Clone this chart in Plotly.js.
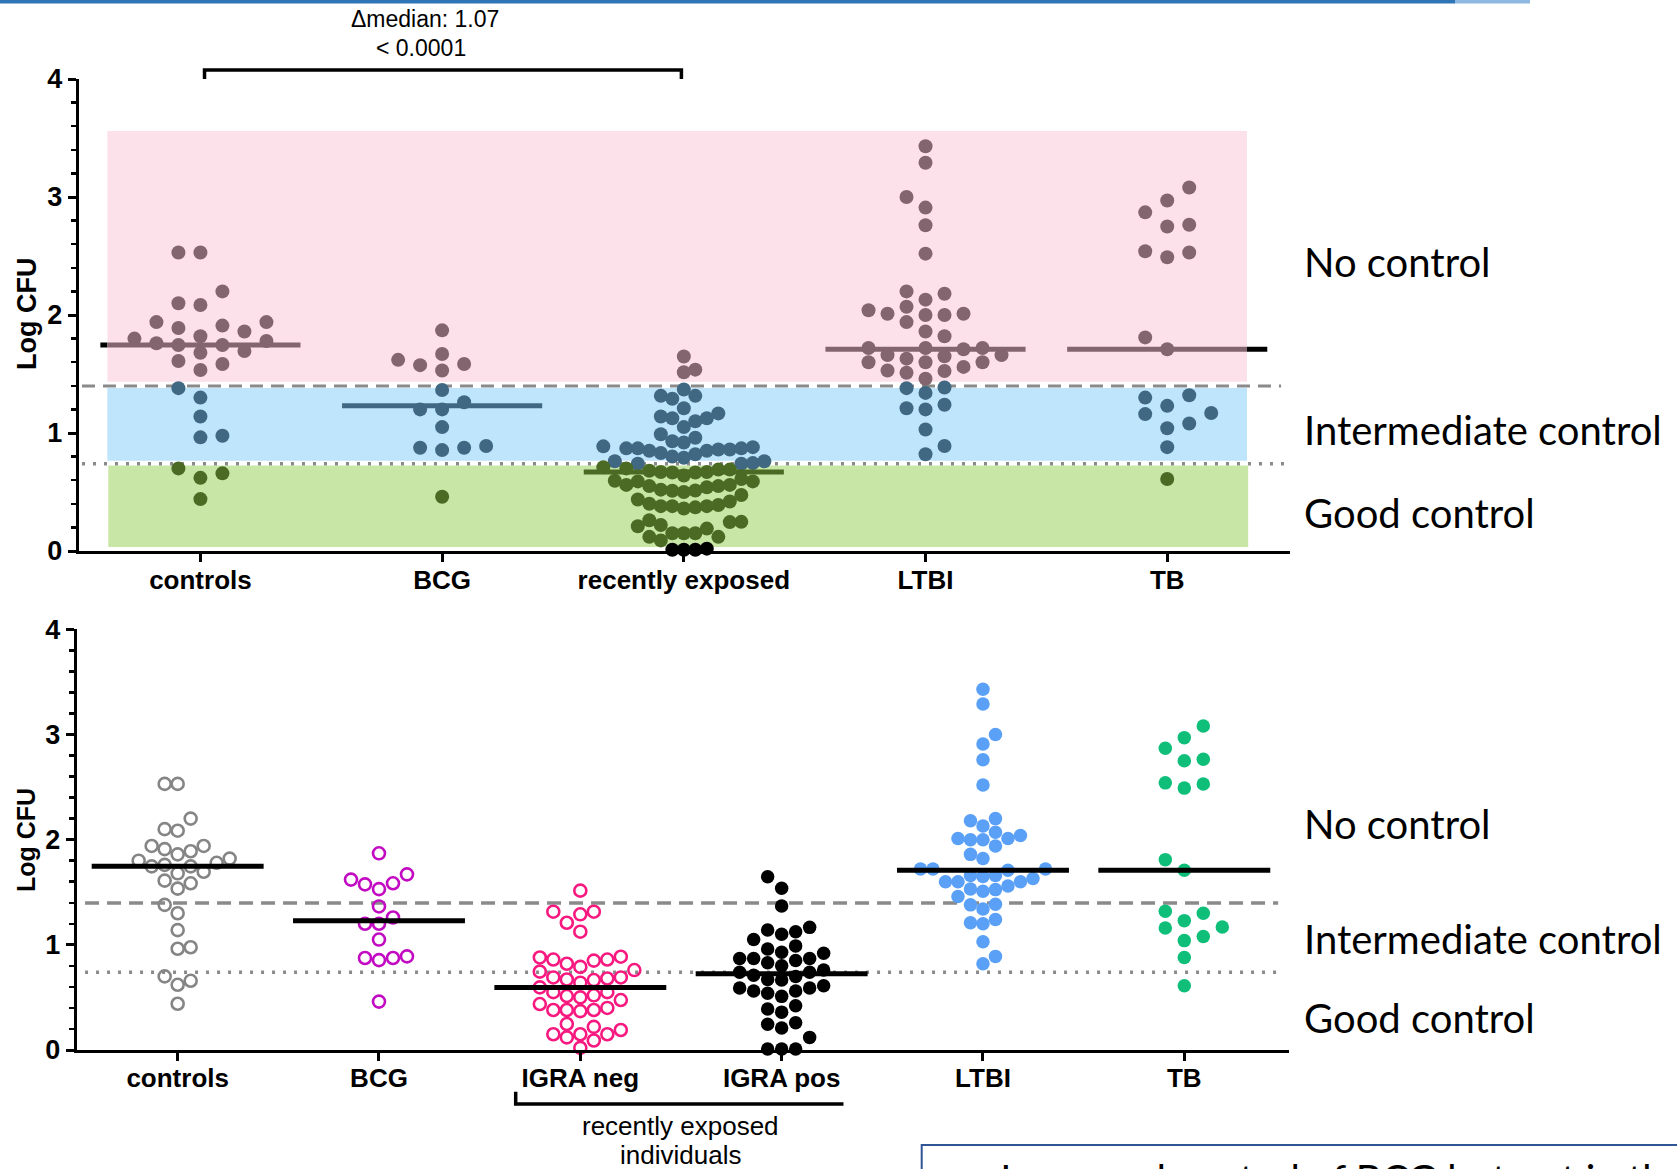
<!DOCTYPE html>
<html><head><meta charset="utf-8">
<script src="https://cdn.plot.ly/plotly-3.0.1.min.js"></script>
<style>html,body{margin:0;padding:0;background:#fff;overflow:hidden}#chart{width:1677px;height:1169px}</style>
</head><body><div id="chart"></div>
<script>
// ---------------- data (Log CFU values) ----------------
const categoriesTop = ['controls', 'BCG', 'recently exposed', 'LTBI', 'TB'];
const categoriesBottom = ['controls', 'BCG', 'IGRA neg', 'IGRA pos', 'LTBI', 'TB'];
const controls = [2.53, 2.53, 2.20, 2.10, 2.085, 1.94, 1.94, 1.91, 1.89, 1.86, 1.82, 1.80, 1.78, 1.76, 1.746, 1.746,
  1.695, 1.68, 1.61, 1.585, 1.534, 1.38, 1.30, 1.14, 0.977, 0.963, 0.70, 0.658, 0.62, 0.44];
const bcg = [1.87, 1.67, 1.62, 1.585, 1.575, 1.53, 1.365, 1.26, 1.20, 1.20, 1.05, 0.89, 0.875, 0.875, 0.855, 0.46];
const igraNeg = [1.515, 1.315, 1.315, 1.29, 1.21, 1.125, 0.887, 0.88, 0.86, 0.86, 0.85, 0.82, 0.79, 0.76, 0.745,
  0.69, 0.69, 0.68, 0.67, 0.665, 0.64, 0.595, 0.55, 0.55, 0.513, 0.50, 0.52, 0.475, 0.437, 0.40, 0.37, 0.38, 0.38,
  0.38, 0.247, 0.22, 0.19, 0.15, 0.15, 0.12, 0.15, 0.09, 0.02];
const igraPos = [1.648, 1.537, 1.369, 1.166, 1.14, 1.125, 1.10, 1.05, 0.99, 0.96, 0.93, 0.92, 0.87, 0.87, 0.87, 0.85,
  0.83, 0.80, 0.76, 0.74, 0.74, 0.71, 0.70, 0.67, 0.665, 0.61, 0.59, 0.59, 0.56, 0.56, 0.54, 0.51, 0.42, 0.39, 0.36,
  0.26, 0.245, 0.21, 0.12, 0.01, 0.01, 0.01];
const ltbi = [3.43, 3.29, 3.00, 2.91, 2.76, 2.52, 2.20, 2.18, 2.13, 2.07, 2.04, 2.01, 2.01, 2.00, 2.00, 1.94, 1.86,
  1.82, 1.72, 1.72, 1.72, 1.71, 1.66, 1.66, 1.65, 1.63, 1.60, 1.60, 1.60, 1.56, 1.53, 1.525, 1.51, 1.46, 1.385, 1.38,
  1.34, 1.24, 1.21, 1.20, 1.03, 0.89, 0.82];
const tb = [3.08, 2.97, 2.87, 2.765, 2.75, 2.54, 2.53, 2.49, 1.81, 1.71, 1.32, 1.30, 1.23, 1.17, 1.16, 1.08, 1.04, 0.88, 0.61];
const cutoffNoControl = 1.398;   // dashed line
const cutoffGoodControl = 0.74;  // dotted line
const zoneTop = [3.56, 1.434, 1.382, 0.765, 0.724, 0.034]; // pink top/bottom, blue top/bottom, green top/bottom
const zoneLabels = ['No control', 'Intermediate control', 'Good control'];
const statText = ['\u0394median: 1.07', '< 0.0001'];
const groupLabel = ['recently exposed', 'individuals'];
const boxText = '\u2192 Improved control of BCG but not in the l';

// ---------------- geometry ----------------
const W = 1677, H = 1169;
const GT = {left: 78.6, right: 1290, bottom: 551, top: 79, xmin: -0.504, xmax: 4.508};
const GB = {left: 76.8, right: 1289, bottom: 1050, top: 629.3, xmin: -0.501, xmax: 5.52};
function geo(g) {
  const pxCat = (g.right - g.left) / (g.xmax - g.xmin), pxVal = (g.bottom - g.top) / 4;
  return {pxCat, pxVal, px: c => (g.left + (c - g.xmin) * pxCat) / W, py: v => 1 - (g.bottom - v * pxVal) / H};
}
const T = geo(GT), B = geo(GB);
const PX = x => x / W, PY = y => 1 - y / H;

function median(a) { const s = a.slice().sort((p, q) => p - q); const n = s.length;
  return n % 2 ? s[(n - 1) / 2] : (s[n / 2 - 1] + s[n / 2]) / 2; }

// scatter spreading: ascending order, rectangular collision (horizontal rows like Prism)
function swarm(vals, pxVal, sx, sy) {
  const order = vals.map((v, i) => i).sort((a, b) => vals[a] - vals[b]);
  const placed = [], off = new Array(vals.length).fill(0); let flip = 1;
  for (const i of order) {
    const y = vals[i] * pxVal;
    const near = placed.filter(p => Math.abs(p.y - y) < sy);
    const c = [0];
    near.forEach(p => { c.push(p.x + sx, p.x - sx); });
    c.sort((a, b) => { const k = Math.abs(a) - Math.abs(b); return Math.abs(k) > 1e-6 ? k : flip * (b - a); });
    let x = 0;
    for (const cc of c) { if (near.every(p => Math.abs(p.x - cc) >= sx - 1e-6)) { x = cc; break; } }
    if (Math.abs(x) > 1e-6) flip = -flip;
    placed.push({x, y}); off[i] = x;
  }
  return off;
}

const FONT = '"Liberation Sans", Arial, sans-serif';
const traces = [], shapes = [], annotations = [];

// ---------------- top panel ----------------
const topGroups = [controls, bcg, igraNeg.concat(igraPos), ltbi, tb];
const topSpread = [[22, 15], [22, 15], [11.5, 15], [19, 14], [22, 16]];
const C_PINK = '#83656f', C_BLUE = '#416883', C_GREEN = '#4b6b25';
const zoneColor = v => v >= cutoffNoControl ? C_PINK : v >= cutoffGoodControl ? C_BLUE : v >= zoneTop[5] ? C_GREEN : '#000000';
const byColor = {};
topGroups.forEach((vals, i) => {
  const off = swarm(vals, T.pxVal, topSpread[i][0], topSpread[i][1]);
  vals.forEach((v, k) => { const col = zoneColor(v); (byColor[col] = byColor[col] || {x: [], y: []});
    byColor[col].x.push(i + off[k] / T.pxCat); byColor[col].y.push(v); });
});
Object.keys(byColor).forEach(col => traces.push({type: 'scatter', mode: 'markers', xaxis: 'x', yaxis: 'y',
  x: byColor[col].x, y: byColor[col].y, cliponaxis: false, hoverinfo: 'skip', showlegend: false,
  marker: {size: 14, color: col, line: {width: 0}}}));

const rectX0 = -0.385, rectX1 = 4.33, HW_T = 0.414;
topGroups.forEach((vals, i) => { const m = median(vals);
  shapes.push({type: 'line', xref: 'x', yref: 'y', x0: i - HW_T, x1: i + HW_T, y0: m, y1: m, layer: 'below', line: {color: '#000', width: 5}}); });
shapes.push({type: 'rect', xref: 'x', yref: 'y', x0: rectX0, x1: rectX1, y0: zoneTop[1], y1: zoneTop[0], fillcolor: '#fde1ea', line: {width: 0}, layer: 'below'});
shapes.push({type: 'rect', xref: 'x', yref: 'y', x0: rectX0, x1: rectX1, y0: zoneTop[3], y1: zoneTop[2], fillcolor: '#bee5fc', line: {width: 0}, layer: 'below'});
shapes.push({type: 'rect', xref: 'x', yref: 'y', x0: rectX0 + 0.004, x1: rectX1 + 0.005, y0: zoneTop[5], y1: zoneTop[4], fillcolor: '#c8e6a5', line: {width: 0}, layer: 'below'});
shapes.push({type: 'line', xref: 'x', yref: 'y', x0: -0.49, x1: 4.471, y0: cutoffNoControl, y1: cutoffNoControl, layer: 'below', line: {color: '#8a8a8a', width: 3, dash: '13px,8px'}});
shapes.push({type: 'line', xref: 'x', yref: 'y', x0: -0.49, x1: 4.504, y0: cutoffGoodControl, y1: cutoffGoodControl, layer: 'below', line: {color: '#8a8a8a', width: 3.5, dash: '3px,8px'}});
topGroups.forEach((vals, i) => { const m = median(vals);
  shapes.push({type: 'line', xref: 'x', yref: 'y', x0: Math.max(i - HW_T, rectX0), x1: Math.min(i + HW_T, rectX1), y0: m, y1: m,
    layer: 'above', line: {color: zoneColor(m), width: 5}}); });

// significance bracket
const by = T.py(4.076), by0 = T.py(4.0);
shapes.push({type: 'path', xref: 'paper', yref: 'paper', line: {color: '#000', width: 3.5},
  path: `M${T.px(0.017)},${by0} L${T.px(0.017)},${by} L${T.px(1.99)},${by} L${T.px(1.99)},${by0}`});
annotations.push({xref: 'paper', yref: 'paper', x: PX(424.6), y: PY(19), text: statText[0], showarrow: false, xanchor: 'center', yanchor: 'middle', font: {family: FONT, size: 23, color: '#000'}});
annotations.push({xref: 'paper', yref: 'paper', x: PX(421), y: PY(48), text: statText[1], showarrow: false, xanchor: 'center', yanchor: 'middle', font: {family: FONT, size: 23, color: '#000'}});

// ---------------- bottom panel ----------------
const bottomGroups = [controls, bcg, igraNeg, igraPos, ltbi, tb];
const bottomSpread = [[13, 15], [14, 15], [13.5, 13], [14, 13], [12.5, 13], [19, 16]];
const bottomStyle = [
  {symbol: 'circle-open', color: '#858585'}, {symbol: 'circle-open', color: '#c20ac2'},
  {symbol: 'circle-open', color: '#f7197f'}, {symbol: 'circle', color: '#000000'},
  {symbol: 'circle', color: '#5aa0f6'}, {symbol: 'circle', color: '#0fbf79'}];
const HW_B = 0.427;
bottomGroups.forEach((vals, i) => {
  const off = swarm(vals, B.pxVal, bottomSpread[i][0], bottomSpread[i][1]);
  const st = bottomStyle[i], open = st.symbol === 'circle-open';
  traces.push({type: 'scatter', mode: 'markers', xaxis: 'x2', yaxis: 'y2', cliponaxis: false, hoverinfo: 'skip', showlegend: false,
    x: vals.map((v, k) => i + off[k] / B.pxCat), y: vals,
    marker: {symbol: st.symbol, size: open ? 12 : 13.5, color: st.color, line: {width: open ? 2.6 : 0, color: st.color}}});
  const m = median(vals);
  shapes.push({type: 'line', xref: 'x2', yref: 'y2', x0: i - HW_B, x1: i + HW_B, y0: m, y1: m, layer: 'above', line: {color: '#000', width: 5}});
});
shapes.push({type: 'line', xref: 'x2', yref: 'y2', x0: -0.46, x1: 5.466, y0: cutoffNoControl, y1: cutoffNoControl, layer: 'below', line: {color: '#8a8a8a', width: 3.5, dash: '14px,8px'}});
shapes.push({type: 'line', xref: 'x2', yref: 'y2', x0: -0.46, x1: 5.466, y0: cutoffGoodControl, y1: cutoffGoodControl, layer: 'below', line: {color: '#8a8a8a', width: 3.5, dash: '3px,8px'}});
shapes.push({type: 'path', xref: 'paper', yref: 'paper', line: {color: '#000', width: 3.5},
  path: `M${B.px(1.679)},${PY(1091.7)} L${B.px(1.679)},${PY(1104)} L${B.px(3.307)},${PY(1104)}`});
annotations.push({xref: 'paper', yref: 'paper', x: PX(680), y: PY(1126), text: groupLabel[0], showarrow: false, xanchor: 'center', yanchor: 'middle', font: {family: FONT, size: 26, color: '#000'}});
annotations.push({xref: 'paper', yref: 'paper', x: PX(680), y: PY(1155), text: groupLabel[1], showarrow: false, xanchor: 'center', yanchor: 'middle', font: {family: FONT, size: 26, color: '#000'}});

// zone labels on the right
const zoneYTop = [262, 430, 513], zoneYBot = [823.5, 939, 1018];
zoneLabels.forEach((t, k) => {
  annotations.push({xref: 'paper', yref: 'paper', x: PX(1302), y: PY(zoneYTop[k]), text: t, showarrow: false, xanchor: 'left', yanchor: 'middle', font: {family: 'Lato', size: 40, color: '#000'}});
  annotations.push({xref: 'paper', yref: 'paper', x: PX(1302), y: PY(zoneYBot[k]), text: t, showarrow: false, xanchor: 'left', yanchor: 'middle', font: {family: 'Lato', size: 40, color: '#000'}});
});
annotations.push({xref: 'paper', yref: 'paper', x: PX(27), y: PY(314), text: 'Log CFU', textangle: -90, showarrow: false, xanchor: 'center', yanchor: 'middle', font: {family: FONT, size: 27, color: '#000', weight: 'bold'}});
annotations.push({xref: 'paper', yref: 'paper', x: PX(26), y: PY(840), text: 'Log CFU', textangle: -90, showarrow: false, xanchor: 'center', yanchor: 'middle', font: {family: FONT, size: 25, color: '#000', weight: 'bold'}});

// slide decorations
shapes.push({type: 'rect', xref: 'paper', yref: 'paper', x0: 0, x1: PX(1455), y0: PY(3.5), y1: 1, fillcolor: '#2e75b6', line: {width: 0}});
shapes.push({type: 'rect', xref: 'paper', yref: 'paper', x0: PX(1455), x1: PX(1530), y0: PY(3.5), y1: 1, fillcolor: '#8db8e2', line: {width: 0}});
shapes.push({type: 'rect', xref: 'paper', yref: 'paper', x0: PX(921.7), x1: PX(1700), y0: PY(1220), y1: PY(1145), fillcolor: 'rgba(0,0,0,0)', line: {color: '#2f5597', width: 2}});
annotations.push({xref: 'paper', yref: 'paper', x: PX(948), y: PY(1153), text: boxText, showarrow: false, xanchor: 'left', yanchor: 'top', font: {family: 'Lato', size: 40, color: '#000'}});

const axisCommon = {showline: true, linecolor: '#000', linewidth: 3, ticks: 'outside', tickcolor: '#000', tickwidth: 3,
  showgrid: false, zeroline: false, fixedrange: true};
const layout = {
  width: W, height: H, margin: {l: 0, r: 0, t: 0, b: 0}, paper_bgcolor: '#fff', plot_bgcolor: 'rgba(0,0,0,0)', showlegend: false,
  xaxis: Object.assign({}, axisCommon, {domain: [PX(GT.left), PX(GT.right)], range: [GT.xmin, GT.xmax], anchor: 'y',
    tickmode: 'array', tickvals: categoriesTop.map((c, i) => i), ticktext: categoriesTop, ticklen: 8, ticklabelstandoff: -4,
    tickfont: {family: FONT, size: 26, color: '#000', weight: 'bold'}}),
  yaxis: Object.assign({}, axisCommon, {domain: [PY(GT.bottom), PY(GT.top)], range: [0, 4], anchor: 'x', dtick: 1, ticklen: 8,
    tickfont: {family: FONT, size: 27, color: '#000', weight: 'bold'},
    minor: {dtick: 0.2, ticks: 'outside', ticklen: 5, tickwidth: 2.5, tickcolor: '#000', showgrid: false}}),
  xaxis2: Object.assign({}, axisCommon, {domain: [PX(GB.left), PX(GB.right)], range: [GB.xmin, GB.xmax], anchor: 'y2',
    tickmode: 'array', tickvals: categoriesBottom.map((c, i) => i), ticktext: categoriesBottom, ticklen: 8, ticklabelstandoff: -5,
    tickfont: {family: FONT, size: 26, color: '#000', weight: 'bold'}}),
  yaxis2: Object.assign({}, axisCommon, {domain: [PY(GB.bottom), PY(GB.top)], range: [0, 4], anchor: 'x2', dtick: 1, ticklen: 8,
    tickfont: {family: FONT, size: 27, color: '#000', weight: 'bold'},
    minor: {dtick: 0.2, ticks: 'outside', ticklen: 5, tickwidth: 2.5, tickcolor: '#000', showgrid: false}}),
  shapes, annotations
};
Plotly.newPlot('chart', traces, layout, {displayModeBar: false, staticPlot: true});
</script></body></html>
